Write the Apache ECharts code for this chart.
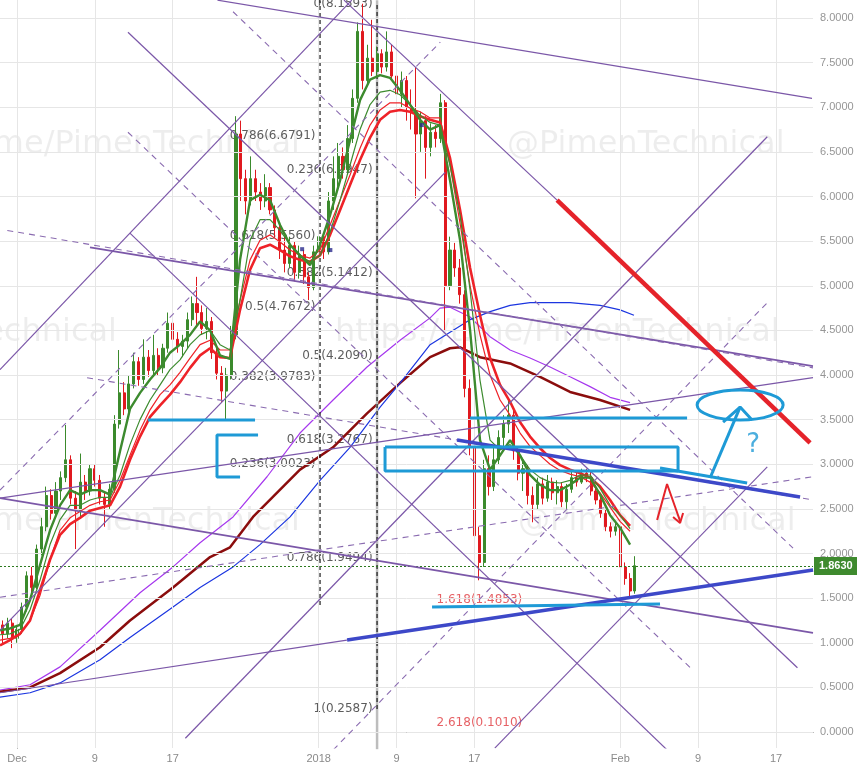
<!DOCTYPE html>
<html><head><meta charset="utf-8">
<script src="https://cdn.jsdelivr.net/npm/echarts@6/dist/echarts.min.js"></script>
<style>html,body{margin:0;padding:0;background:#fff}#c{width:857px;height:769px}</style>
</head><body><div id="c"></div><script>
// ---------- axes ----------
const xTickDays = [0, 8, 16, 31, 39, 47, 62, 70, 78];          // days since Dec 1
const xTickLabels = ['Dec', '9', '17', '2018', '9', '17', 'Feb', '9', '17'];
const yTicks = [0, 0.5, 1, 1.5, 2, 2.5, 3, 3.5, 4, 4.5, 5, 5.5, 6, 6.5, 7, 7.5, 8];
const X_MIN = -1.75, X_MAX = 81.8, Y_MIN = -0.179, Y_MAX = 8.2017;

// ---------- candles (12h), [open, close, low, high] ----------
const candleStartDay = -1.5, candleStepDay = 0.5;
const candles = [
[1.20,1.10,0.98,1.25],[1.10,1.22,1.05,1.28],[1.22,1.05,0.94,1.27],[1.05,1.15,1.00,1.20],
[1.15,1.40,1.10,1.45],[1.40,1.75,1.35,1.80],[1.75,1.62,1.55,1.85],[1.62,2.05,1.60,2.10],
[2.05,2.30,1.98,2.40],[2.30,2.65,2.25,2.75],[2.65,2.45,2.38,2.72],[2.45,2.70,2.40,2.80],
[2.70,2.85,2.60,2.92],[2.85,3.05,2.80,3.44],[3.05,2.62,2.55,3.10],[2.62,2.48,2.05,2.70],
[2.48,2.80,2.40,3.12],[2.80,2.70,2.60,2.88],[2.70,2.95,2.65,3.00],[2.95,2.82,2.75,3.00],
[2.82,2.62,2.55,2.88],[2.62,2.55,2.30,2.68],[2.55,2.72,2.50,2.78],[2.72,3.45,2.68,3.55],
[3.45,3.80,3.40,4.28],[3.80,3.62,3.55,3.92],[3.62,3.90,3.58,4.00],[3.90,4.15,3.85,4.25],
[4.15,3.95,3.88,4.20],[3.95,4.20,3.90,4.40],[4.20,4.05,3.98,4.28],[4.05,4.22,4.00,4.45],
[4.22,4.08,4.00,4.30],[4.08,4.30,4.02,4.35],[4.30,4.58,4.25,4.70],[4.58,4.40,4.32,4.65],
[4.40,4.32,4.25,4.48],[4.32,4.38,4.20,4.45],[4.38,4.62,4.30,4.70],[4.62,4.80,4.55,4.88],
[4.80,4.70,4.55,5.10],[4.70,4.52,4.45,4.78],[4.52,4.60,4.40,4.75],[4.60,4.25,4.18,4.65],
[4.25,4.02,3.95,4.30],[4.02,3.82,3.70,4.10],[3.82,4.00,3.50,4.08],[4.00,4.45,3.95,4.55],
[4.45,6.70,4.40,6.90],[6.70,6.20,5.95,6.85],[6.20,5.95,5.80,6.30],[5.95,6.20,5.90,6.45],
[6.20,6.05,5.95,6.30],[6.05,5.95,5.85,6.15],[5.95,6.10,5.88,6.25],[6.10,5.85,5.80,6.15],
[5.85,5.65,5.55,5.90],[5.65,5.40,5.30,5.70],[5.40,5.25,5.15,5.55],[5.25,5.45,5.20,5.55],
[5.45,5.15,5.05,5.50],[5.15,5.35,5.08,5.45],[5.35,5.10,5.02,5.40],[5.10,4.98,4.84,5.15],
[4.98,5.38,4.95,5.45],[5.38,5.55,5.30,5.70],[5.55,5.38,5.30,5.60],[5.38,5.95,5.35,6.05],
[5.95,6.20,5.85,6.45],[6.20,6.45,6.10,6.60],[6.45,6.30,6.20,6.55],[6.30,6.65,6.25,6.80],
[6.65,7.10,6.60,7.20],[7.10,7.85,7.05,7.95],[7.85,7.30,7.20,8.16],[7.30,7.55,7.25,7.70],
[7.55,7.40,7.35,7.98],[7.40,7.60,7.35,7.68],[7.60,7.45,7.38,7.65],[7.45,7.62,7.40,7.85],
[7.62,7.35,7.30,7.70],[7.35,7.15,7.05,7.45],[7.15,7.30,7.00,7.40],[7.30,7.00,6.85,7.35],
[7.00,6.95,6.75,7.20],[6.95,6.70,5.98,7.45],[6.70,6.85,6.50,6.95],[6.85,6.55,6.20,6.90],
[6.55,6.72,6.45,6.82],[6.72,6.65,6.55,6.80],[6.65,7.05,6.60,7.15],[7.05,5.00,4.50,7.08],
[5.00,5.40,4.95,5.55],[5.40,5.20,5.10,5.48],[5.20,4.90,4.80,5.30],[4.90,3.85,3.75,4.95],
[3.85,3.20,3.10,3.95],[3.20,2.20,2.10,3.25],[2.20,1.90,1.70,2.30],[1.90,2.95,1.85,3.05],
[2.95,2.75,2.65,3.10],[2.75,3.05,2.70,3.20],[3.05,3.30,3.00,3.38],[3.30,3.45,3.20,3.55],
[3.45,3.55,3.35,3.72],[3.55,3.15,3.05,3.60],[3.15,2.90,2.82,3.20],[2.90,2.95,2.70,3.05],
[2.95,2.65,2.55,3.00],[2.65,2.55,2.35,2.75],[2.55,2.78,2.50,2.85],[2.78,2.62,2.55,2.85],
[2.62,2.80,2.58,2.88],[2.80,2.68,2.60,2.85],[2.68,2.75,2.55,2.82],[2.75,2.58,2.52,2.80],
[2.58,2.72,2.50,2.78],[2.72,2.85,2.68,2.92],[2.85,2.80,2.75,2.92],[2.80,2.90,2.78,2.95],
[2.90,2.85,2.80,2.95],[2.85,2.70,2.65,2.92],[2.70,2.60,2.55,2.75],[2.60,2.45,2.40,2.65],
[2.45,2.30,2.25,2.50],[2.30,2.25,2.18,2.35],[2.25,2.30,2.20,2.35],[2.30,1.85,1.80,2.35],
[1.85,1.72,1.65,1.90],[1.72,1.58,1.51,1.78],[1.58,1.863,1.55,1.97]
];
const lastPrice = 1.863;

// ---------- short moving averages (sampled days) ----------
const maDays = [-1.75,-0.72,0.31,1.34,2.36,3.39,4.42,5.45,6.47,7.50,8.53,9.56,10.59,11.61,12.64,13.67,14.70,15.72,16.75,17.78,18.81,19.84,20.86,21.89,22.92,23.95,24.97,26.00,27.03,28.06,29.08,30.11,31.14,32.17,33.20,34.22,35.25,36.28,37.31,38.33,39.36,40.39,41.42,42.45,43.47,44.50,45.53,46.56,47.58,48.61,49.64,50.67,51.70,52.72,53.75,54.78,55.81,56.83,57.86,58.89,59.92,60.95,61.97,63.00];
const greenFast = [1.14,1.16,1.20,1.48,1.87,2.26,2.54,2.71,2.66,2.71,2.71,2.66,3.15,3.62,3.80,3.95,4.08,4.25,4.34,4.45,4.60,4.50,4.22,4.18,5.29,5.96,6.02,5.96,5.68,5.46,5.34,5.23,5.46,5.79,6.18,6.63,7.08,7.31,7.36,7.33,7.19,7.03,6.86,6.75,6.80,6.18,5.51,4.50,3.27,2.94,3.10,3.27,3.10,2.88,2.77,2.71,2.71,2.77,2.85,2.85,2.66,2.43,2.29,2.10];
const greenSlow = [1.09,1.10,1.15,1.37,1.70,2.10,2.38,2.54,2.54,2.60,2.63,2.63,2.88,3.22,3.50,3.72,3.89,4.06,4.17,4.34,4.45,4.50,4.34,4.28,4.84,5.51,5.74,5.74,5.62,5.46,5.34,5.27,5.34,5.60,5.96,6.35,6.75,7.03,7.17,7.19,7.14,7.03,6.91,6.83,6.80,6.35,5.79,4.95,3.94,3.27,3.16,3.22,3.10,2.94,2.85,2.80,2.79,2.82,2.88,2.88,2.73,2.54,2.43,2.28];
const redFast = [1.03,1.05,1.10,1.25,1.53,1.93,2.26,2.40,2.47,2.54,2.58,2.60,2.82,3.10,3.38,3.61,3.78,3.89,4.03,4.19,4.34,4.39,4.28,4.28,4.84,5.29,5.51,5.57,5.49,5.40,5.34,5.31,5.40,5.68,5.96,6.24,6.54,6.80,6.97,7.05,7.05,6.99,6.95,6.88,6.88,6.35,5.70,5.00,4.45,4.00,3.72,3.55,3.35,3.20,3.10,3.00,2.93,2.89,2.86,2.80,2.68,2.52,2.36,2.25];
const redSlow = [0.97,1.03,1.10,1.25,1.59,1.93,2.21,2.33,2.40,2.48,2.51,2.54,2.75,3.05,3.31,3.53,3.66,3.78,3.92,4.08,4.22,4.30,4.20,4.19,4.73,5.18,5.42,5.46,5.40,5.33,5.29,5.27,5.34,5.57,5.85,6.13,6.41,6.66,6.86,6.95,6.97,6.95,6.90,6.86,6.83,6.43,5.85,5.20,4.67,4.19,3.89,3.70,3.47,3.31,3.18,3.07,2.99,2.94,2.90,2.85,2.75,2.60,2.43,2.31];

// ---------- long moving averages [day, value] ----------
const maViolet = [[-1.75,0.47],[1.34,0.53],[4.42,0.73],[8.53,1.14],[12.64,1.56],[16.03,1.85],[18.81,2.12],[22.2,2.41],[25.69,2.86],[29.08,3.35],[32.48,3.72],[35.97,4.09],[39.36,4.39],[42.45,4.64],[43.47,4.75],[44.5,4.76],[46.56,4.65],[48.61,4.43],[50.67,4.28],[52.72,4.19],[54.78,4.09],[56.83,3.98],[58.89,3.87],[60.95,3.75],[63.0,3.69]];
const maBrown = [[-1.75,0.45],[1.34,0.50],[4.42,0.66],[8.53,0.95],[11.61,1.25],[16.03,1.62],[19.84,1.96],[21.89,2.07],[24.25,2.41],[29.08,2.94],[32.48,3.19],[35.97,3.57],[39.36,3.91],[42.45,4.20],[44.5,4.30],[45.53,4.31],[47.58,4.20],[50.67,4.13],[53.75,3.98],[56.83,3.81],[59.92,3.72],[63.0,3.61]];
const maBlue = [[-1.75,0.39],[1.34,0.44],[4.42,0.55],[8.53,0.81],[11.61,1.06],[16.03,1.40],[18.81,1.62],[22.2,1.85],[24.97,2.10],[28.06,2.41],[31.14,2.82],[34.22,3.19],[37.31,3.64],[39.36,3.91],[42.45,4.34],[44.5,4.48],[46.56,4.62],[48.61,4.71],[50.67,4.78],[52.72,4.81],[56.83,4.81],[59.92,4.78],[61.97,4.73],[63.4,4.67]];

// ---------- drawings [day, price] ----------
const purpleSolid = [
 [[20.6,8.20],[81.7,7.10]],
 [[-1.75,2.62],[81.8,3.97]],
 [[-1.75,0.44],[33.9,1.03]],
 [[-1.75,4.06],[34.4,8.20]],
 [[-1.75,1.14],[44.0,6.27]],
 [[17.3,-0.07],[77.1,6.67]],
 [[49.1,-0.18],[77.1,2.97]],
 [[11.4,7.84],[80.2,0.72]],
 [[33.6,8.20],[55.5,5.96]],
 [[11.6,5.59],[66.8,-0.2]]
];
const purpleBold = [
 [[7.5,5.43],[81.8,4.10]],
 [[-1.75,2.62],[81.8,1.11]]
];
const purpleDashed = [
 [[-1.0,5.62],[81.8,4.08]],
 [[-1.75,1.51],[81.8,2.86]],
 [[7.2,3.97],[81.8,2.60]],
 [[22.2,8.07],[79.75,2.06]],
 [[11.4,6.72],[69.2,0.72]],
 [[-1.75,2.71],[43.5,7.73]],
 [[32.5,-0.2],[77.1,4.81]]
];
const fibLines = [
 [[31.14,1.4244],[31.14,8.2]],
 [[37.0,0.2587],[37.0,8.1593]]
];
const grayVertical = [[37.0,-0.2],[37.0,8.2]];
const fib1Day = 37.0;
const fib1Ratios = ['0','0.236','0.382','0.5','0.618','0.786','1'];
const fib1Values = [8.1593,6.2947,5.1412,4.2090,3.2767,1.9494,0.2587];
const fib2Day = 31.14;
const fib2Ratios = ['0.786','0.618','0.5','0.382','0.236'];
const fib2Values = [6.6791,5.5560,4.7672,3.9783,3.0023];
const extDay = 43.06;
const extRatios = ['1.618','2.618'];
const extValues = [1.4853,0.1010];

const darkBlueLines = [
 [[45.22,3.272],[80.47,2.633]],
 [[33.92,1.031],[81.81,1.815]]
];
const redTrend = [[55.5,5.96],[81.5,3.24]];
const redZigzag = [[[65.78,2.375],[66.80,2.779],[68.14,2.364]],[[67.42,2.409],[68.14,2.342],[68.45,2.454]]];
const lightBlueMarks = [
 [[13.46,3.496],[24.46,3.496]],
 [[24.77,3.328],[20.55,3.328],[20.55,2.857],[22.92,2.857]],
 [[46.56,3.518],[68.86,3.518]],
 [[37.82,3.193],[67.93,3.193],[67.93,2.924],[37.82,2.924],[37.82,3.193]],
 [[42.65,1.401],[66.08,1.434]],
 [[66.08,2.958],[75.03,2.790]],
 [[71.22,2.846],[74.31,3.641]],
 [[72.56,3.473],[74.31,3.641],[75.54,3.496]]
];
const targetEllipse = [74.31, 3.664, 4.42, 0.168]; // center day, center price, half-width (days), half-height (price)
const questionMark = [75.64, 3.216];
const markerSquares = [[29.3,5.41],[32.2,5.40],[41.6,6.80]];

// ---------- build ----------
const FONT = 'DejaVu Sans';
const AXFONT = 'Liberation Sans';
const PURPLE = '#7b57a8';
const chart = echarts.init(document.getElementById('c'), null, {renderer: 'canvas'});

const candleData = candles.map((c, i) => [candleStartDay + i * candleStepDay, c[0], c[1], c[2], c[3]]);
const zipMA = arr => arr.map((v, i) => [maDays[i], v]);

function lineSeries(data, color, width, type, z) {
  return {type: 'line', data: data, showSymbol: false, symbol: 'none', silent: true, clip: true,
    lineStyle: {color: color, width: width, type: type || 'solid'}, z: z || 4, animation: false};
}

const series = [];
// grid lines
series.push({type: 'line', data: [[X_MIN, Y_MIN]], symbol: 'none', lineStyle: {opacity: 0}, silent: true, z: 0,
  markLine: {silent: true, symbol: 'none', animation: false, label: {show: false},
    lineStyle: {color: '#e6e6e6', width: 1, type: 'solid'},
    data: yTicks.map(v => ({yAxis: v})).concat(xTickDays.map(d => ({xAxis: d})))}});

// long MAs
series.push(lineSeries(maViolet, '#a638ee', 1.2, 'solid', 2));
series.push(lineSeries(maBrown, '#8b0d0d', 2.5, 'solid', 2));
series.push(lineSeries(maBlue, '#1c36e0', 1.2, 'solid', 2));

// fib labels (behind candles)
function labelSeries(day, ratios, values, pos, color, dist) {
  return {type: 'scatter', symbolSize: 1, itemStyle: {color: 'rgba(0,0,0,0)'}, silent: true, z: 1,
    data: values.map((v, i) => ({value: [day, v], name: ratios[i] + '(' + v.toFixed(4) + ')'})),
    label: {show: true, position: pos, distance: dist, formatter: p => p.name, color: color,
      fontSize: 12, fontFamily: FONT}, animation: false};
}
series.push(labelSeries(fib1Day, fib1Ratios, fib1Values, 'left', '#333', 4));
series.push(labelSeries(fib2Day, fib2Ratios, fib2Values, 'left', '#333', 4));
series.push(labelSeries(extDay, extRatios, extValues, 'right', '#e03a3e', 0));

// gray vertical + fib dashed
series.push(lineSeries(grayVertical, '#bdbdbd', 2.5, 'solid', 2));
fibLines.forEach(l => series.push(lineSeries(l, '#1a1a1a', 1.2, [4, 3], 3)));

// candles
series.push({type: 'candlestick', data: candleData, encode: {x: 0, y: [1, 2, 3, 4]}, barWidth: 2.6, z: 3,
  itemStyle: {color: '#3b8a2c', color0: '#e0191f', borderColor: '#3b8a2c', borderColor0: '#e0191f', borderWidth: 1},
  silent: true, animation: false,
  markLine: {silent: true, symbol: 'none', animation: false,
    lineStyle: {color: '#2d7a1f', width: 1, type: [2, 2]},
    data: [{yAxis: lastPrice}],
    label: {show: true, position: 'end', distance: 1, formatter: () => lastPrice.toFixed(4),
      backgroundColor: '#3e8a2e', color: '#fff', fontWeight: 'bold', fontSize: 11, fontFamily: AXFONT,
      padding: [4, 6, 3, 5]}}});

// short MAs
series.push(lineSeries(zipMA(redSlow), '#ee2228', 2.6, 'solid', 5));
series.push(lineSeries(zipMA(redFast), '#ee2228', 1.2, 'solid', 5));
series.push(lineSeries(zipMA(greenSlow), '#3d8b2f', 1.2, 'solid', 5));
series.push(lineSeries(zipMA(greenFast), '#3d8b2f', 2.4, 'solid', 5));

// drawings
purpleSolid.forEach(l => series.push(lineSeries(l, PURPLE, 1.2, 'solid', 6)));
purpleBold.forEach(l => series.push(lineSeries(l, PURPLE, 1.8, 'solid', 6)));
purpleDashed.forEach(l => series.push(lineSeries(l, '#8a6bb0', 1.1, [6, 5], 6)));
darkBlueLines.forEach(l => series.push(lineSeries(l, '#3d48c8', 3.5, 'solid', 7)));
series.push(lineSeries(redTrend, '#e5232a', 4.5, 'solid', 7));
redZigzag.forEach(l => series.push(lineSeries(l, '#e5232a', 2, 'solid', 7)));
lightBlueMarks.forEach(l => series.push(lineSeries(l, '#1e9ad6', 3, 'solid', 8)));
series.push({type: 'custom', silent: true, z: 8, animation: false, data: [targetEllipse],
  renderItem: (params, api) => {
    const c = api.coord([api.value(0), api.value(1)]);
    const s = api.size([api.value(2), api.value(3)]);
    return {type: 'ellipse', shape: {cx: c[0], cy: c[1], rx: s[0], ry: s[1]},
      style: {fill: 'rgba(0,0,0,0)', stroke: '#1e9ad6', lineWidth: 3}};
  }});
series.push({type: 'scatter', symbolSize: 1, itemStyle: {color: 'rgba(0,0,0,0)'}, silent: true, z: 8,
  data: [{value: questionMark, name: '?'}],
  label: {show: true, position: 'inside', formatter: '?', color: '#1e9ad6', fontSize: 26, fontFamily: FONT}});
series.push({type: 'scatter', symbol: 'rect', symbolSize: 4, itemStyle: {color: '#2b2b8c'}, silent: true, z: 6,
  data: markerSquares});

const wmStyle = (text, x, y, align) => ({type: 'text', x: x, y: y, z: 0, silent: true,
  style: {text: text, fontSize: 32, fontFamily: FONT, fill: 'rgba(0,0,0,0.07)',
    align: align, verticalAlign: 'middle', textAlign: align, textVerticalAlign: 'middle'}});

chart.setOption({
  animation: false,
  backgroundColor: '#ffffff',
  grid: {left: 0, right: 44, top: 0, bottom: 21, containLabel: false},
  xAxis: {type: 'value', min: X_MIN, max: X_MAX,
    axisLine: {show: true, lineStyle: {color: '#4d4d4d', width: 1}},
    axisTick: {show: false},
    splitLine: {show: false},
    axisLabel: {customValues: xTickDays, margin: 5, color: '#8a8a8a', fontSize: 11, fontFamily: AXFONT,
      formatter: v => xTickLabels[xTickDays.indexOf(v)]}},
  yAxis: {type: 'value', position: 'right', min: Y_MIN, max: Y_MAX,
    axisLine: {show: true, lineStyle: {color: '#4d4d4d', width: 1}},
    axisTick: {show: false},
    splitLine: {show: false},
    axisLabel: {customValues: yTicks, margin: 7, color: '#969696', fontSize: 11, fontFamily: AXFONT,
      formatter: v => v.toFixed(4)}},
  graphic: [
    wmStyle('https://t.me/PimenTechnical', 300, 145, 'right'),
    wmStyle('@PimenTechnical', 507, 145, 'left'),
    wmStyle('@PimenTechnical', 117, 333, 'right'),
    wmStyle('https://t.me/PimenTechnical', 335, 333, 'left'),
    wmStyle('https://t.me/PimenTechnical', 300, 522, 'right'),
    wmStyle('@PimenTechnical', 518, 522, 'left')
  ],
  series: series
});
</script></body></html>
